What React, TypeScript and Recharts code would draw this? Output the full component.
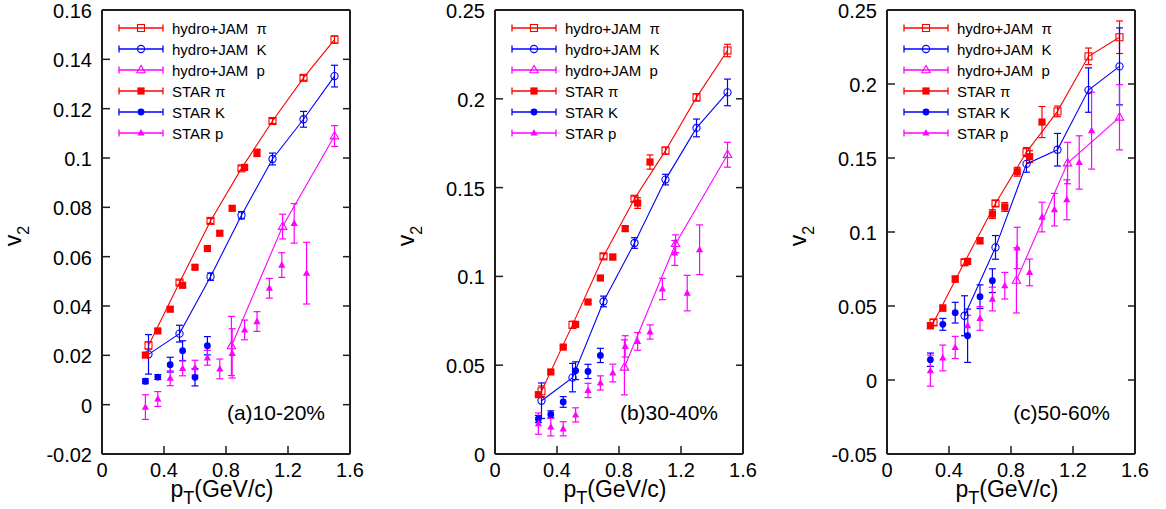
import React from 'react';
import { ScatterChart, Scatter, XAxis, YAxis, ErrorBar, Legend, Label } from 'recharts';

const RED = '#ff0000';
const BLUE = '#0000ff';
const MAG = '#ff00ff';
const AX = '#1e1e1e';
const FONT = '"Liberation Sans", Arial, Helvetica, sans-serif';

// ---------- shared x values / ticks ----------
const X_TICKS = [0, 0.4, 0.8, 1.2, 1.6];
const HYDRO_X = [0.3, 0.5, 0.7, 0.9, 1.1, 1.3, 1.5];
const HYDRO_K_X_C = [0.5, 0.7, 0.9, 1.1, 1.3, 1.5];
const HYDRO_P_X = [0.835, 1.165, 1.5];
const STAR_PI_X = [0.28, 0.36, 0.44, 0.52, 0.6, 0.68, 0.76, 0.84, 0.92, 1.0];
const STAR_K_X = [0.28, 0.36, 0.44, 0.52, 0.6, 0.68];
const STAR_P_X = [0.28, 0.36, 0.44, 0.52, 0.6, 0.68, 0.76, 0.84, 0.92, 1.0, 1.08, 1.16, 1.24, 1.32];

// ---------- panel (a) 10-20% ----------
const A_Y_TICKS = [-0.02, 0, 0.02, 0.04, 0.06, 0.08, 0.1, 0.12, 0.14, 0.16];
const A_HYDRO_PI = [0.024, 0.0495, 0.0745, 0.0958, 0.115, 0.1325, 0.148];
const A_HYDRO_PI_ERR = [0.0015, 0.001, 0.001, 0.001, 0.001, 0.001, 0.0015];
const A_HYDRO_K = [0.0204, 0.0288, 0.0519, 0.0768, 0.0996, 0.1157, 0.1332];
const A_HYDRO_K_ERR = [0.008, 0.0034, 0.0015, 0.0015, 0.0024, 0.0032, 0.0044];
const A_HYDRO_P = [0.0238, 0.0722, 0.1089];
const A_HYDRO_P_ERR = [0.012, 0.005, 0.0042];
const A_STAR_PI = [0.0201, 0.0299, 0.0387, 0.0484, 0.0557, 0.0633, 0.0695, 0.0796, 0.0962, 0.1021];
const A_STAR_PI_ERR = [0.0008, 0.0008, 0.0008, 0.0008, 0.0008, 0.0008, 0.0008, 0.0008, 0.001, 0.0015];
const A_STAR_K = [0.0095, 0.0112, 0.0162, 0.0219, 0.0111, 0.0239];
const A_STAR_K_ERR = [0.001, 0.001, 0.003, 0.004, 0.0035, 0.0037];
const A_STAR_P = [-0.001, 0.0023, 0.0107, 0.0147, 0.015, 0.019, 0.0145, 0.0208, 0.0303, 0.0337, 0.0472, 0.0566, 0.0735, 0.0533];
const A_STAR_P_ERR = [0.005, 0.003, 0.003, 0.003, 0.003, 0.003, 0.004, 0.01, 0.004, 0.004, 0.004, 0.005, 0.008, 0.0125];

// ---------- panel (b) 30-40% ----------
const B_Y_TICKS = [0, 0.05, 0.1, 0.15, 0.2, 0.25];
const B_HYDRO_PI = [0.0353, 0.0727, 0.1113, 0.1437, 0.1708, 0.2008, 0.2272];
const B_HYDRO_PI_ERR = [0.003, 0.002, 0.0015, 0.0015, 0.002, 0.002, 0.0035];
const B_HYDRO_K = [0.03, 0.043, 0.0859, 0.1188, 0.1545, 0.1836, 0.2036];
const B_HYDRO_K_ERR = [0.01, 0.008, 0.003, 0.003, 0.003, 0.005, 0.0075];
const B_HYDRO_P = [0.0488, 0.1184, 0.1685];
const B_HYDRO_P_ERR = [0.0155, 0.005, 0.007];
const B_STAR_PI = [0.0334, 0.0462, 0.0602, 0.073, 0.0856, 0.0991, 0.1109, 0.1269, 0.1413, 0.1644];
const B_STAR_PI_ERR = [0.001, 0.001, 0.001, 0.001, 0.001, 0.001, 0.0015, 0.0015, 0.003, 0.004];
const B_STAR_K = [0.0197, 0.0223, 0.0293, 0.0469, 0.0465, 0.0555];
const B_STAR_K_ERR = [0.002, 0.002, 0.003, 0.005, 0.004, 0.004];
const B_STAR_P = [0.0171, 0.0152, 0.0142, 0.022, 0.0358, 0.04, 0.0456, 0.0606, 0.0634, 0.0687, 0.0929, 0.1132, 0.0906, 0.115];
const B_STAR_P_ERR = [0.006, 0.005, 0.004, 0.004, 0.004, 0.004, 0.005, 0.006, 0.005, 0.004, 0.006, 0.007, 0.01, 0.014];

// ---------- panel (c) 50-60% ----------
const C_Y_TICKS = [-0.05, 0, 0.05, 0.1, 0.15, 0.2, 0.25];
const C_HYDRO_PI = [0.0389, 0.0795, 0.1193, 0.154, 0.1815, 0.2187, 0.2316];
const C_HYDRO_PI_ERR = [0.002, 0.002, 0.002, 0.003, 0.0036, 0.0056, 0.011];
const C_HYDRO_K = [0.0434, 0.0896, 0.146, 0.1556, 0.1959, 0.2119];
const C_HYDRO_K_ERR = [0.0135, 0.008, 0.0056, 0.011, 0.015, 0.026];
const C_HYDRO_P = [0.0673, 0.1466, 0.1775];
const C_HYDRO_P_ERR = [0.022, 0.014, 0.022];
const C_STAR_PI = [0.0367, 0.0486, 0.0682, 0.0801, 0.0941, 0.1121, 0.1169, 0.1407, 0.1509, 0.1743];
const C_STAR_PI_ERR = [0.002, 0.002, 0.002, 0.002, 0.002, 0.003, 0.003, 0.003, 0.004, 0.0105];
const C_STAR_K = [0.0137, 0.0376, 0.0455, 0.0299, 0.0563, 0.0671];
const C_STAR_K_ERR = [0.0045, 0.004, 0.007, 0.018, 0.008, 0.008];
const C_STAR_P = [0.0063, 0.0149, 0.022, 0.0367, 0.0416, 0.0547, 0.0637, 0.0892, 0.0727, 0.1101, 0.1151, 0.1218, 0.147, 0.1685];
const C_STAR_P_ERR = [0.0105, 0.0087, 0.0075, 0.007, 0.008, 0.008, 0.009, 0.014, 0.009, 0.01, 0.011, 0.0135, 0.018, 0.026];

const LEGEND_NAMES = ['hydro+JAM  \u03c0', 'hydro+JAM  K', 'hydro+JAM  p', 'STAR \u03c0', 'STAR K', 'STAR p'];
const PANEL_LABELS = ['(a)10-20%', '(b)30-40%', '(c)50-60%'];

const pts = (xs: number[], ys: number[], es: number[]) => xs.map((x, i) => ({ x, y: ys[i], e: es[i] }));

// ---------- marker shapes ----------
type ShapeKind = 'osq' | 'ocirc' | 'otri' | 'fsq' | 'fcirc' | 'ftri';
const marker = (kind: ShapeKind, c: string, cx: number, cy: number) => {
  switch (kind) {
    case 'osq':
      return <rect x={cx - 3.5} y={cy - 3.5} width={7} height={7} fill="none" stroke={c} strokeWidth={1.1} />;
    case 'ocirc':
      return <circle cx={cx} cy={cy} r={3.6} fill="none" stroke={c} strokeWidth={1.1} />;
    case 'otri':
      return <polygon points={`${cx},${cy - 4.6} ${cx - 4.2},${cy + 2.8} ${cx + 4.2},${cy + 2.8}`} fill="none" stroke={c} strokeWidth={1.1} />;
    case 'fsq':
      return <rect x={cx - 3.6} y={cy - 3.6} width={7.2} height={7.2} fill={c} stroke="none" />;
    case 'fcirc':
      return <circle cx={cx} cy={cy} r={3.4} fill={c} stroke="none" />;
    default:
      return <polygon points={`${cx},${cy - 4} ${cx - 3.6},${cy + 2.6} ${cx + 3.6},${cy + 2.6}`} fill={c} stroke="none" />;
  }
};
const shapeFn = (kind: ShapeKind, c: string) => (p: any) => {
  if (p == null || p.cx == null || p.cy == null) return <g />;
  return marker(kind, c, p.cx, p.cy);
};

const SERIES_STYLE: { color: string; kind: ShapeKind; line: boolean }[] = [
  { color: RED, kind: 'osq', line: true },
  { color: BLUE, kind: 'ocirc', line: true },
  { color: MAG, kind: 'otri', line: true },
  { color: RED, kind: 'fsq', line: false },
  { color: BLUE, kind: 'fcirc', line: false },
  { color: MAG, kind: 'ftri', line: false },
];

// ---------- ticks ----------
const leftTick = (props: any) => {
  const { x, y, payload } = props;
  return (
    <g>
      <line x1={x} y1={y} x2={x + 8} y2={y} stroke={AX} strokeWidth={1.5} />
      <text x={x - 10} y={y + 8} textAnchor="end" fontSize={20} fontFamily={FONT} fill="#000">
        {String(payload.value)}
      </text>
    </g>
  );
};
const rightTick = (props: any) => {
  const { x, y } = props;
  return <line x1={x} y1={y} x2={x - 7} y2={y} stroke={AX} strokeWidth={1.5} />;
};
const bottomTick = (props: any) => {
  const { x, y, payload } = props;
  return (
    <g>
      <line x1={x} y1={y} x2={x} y2={y - 8} stroke={AX} strokeWidth={1.5} />
      <text x={x} y={y + 22.5} textAnchor="middle" fontSize={20} fontFamily={FONT} fill="#000">
        {String(payload.value)}
      </text>
    </g>
  );
};
const topTick = (props: any) => {
  const { x, y } = props;
  return <line x1={x} y1={y} x2={x} y2={y + 7} stroke={AX} strokeWidth={1.5} />;
};

// ---------- labels ----------
const yLabel = (props: any) => {
  const vb = props.viewBox || { x: 0, y: 10, width: 102, height: 444 };
  const cx = vb.x + 21;
  const cy = vb.y + vb.height / 2 + 4;
  return (
    <text x={cx} y={cy} transform={`rotate(-90 ${cx} ${cy})`} textAnchor="middle" fontSize={23} fontFamily={FONT} fill="#000">
      v<tspan fontSize={16} dy={8}>2</tspan>
    </text>
  );
};
const xLabel = (props: any) => {
  const vb = props.viewBox || { x: 102, y: 454, width: 248, height: 55 };
  const cx = vb.x + vb.width / 2 - 4;
  const cy = vb.y + 43;
  return (
    <text x={cx} y={cy} textAnchor="middle" fontSize={23} fontFamily={FONT} fill="#000">
      p<tspan fontSize={18} dy={7}>T</tspan>
      <tspan dy={-7}>(GeV/c)</tspan>
    </text>
  );
};
const panelLabel = (text: string) => (props: any) => {
  const vb = props.viewBox || { x: 350, y: 10, width: 1, height: 444 };
  return (
    <text x={vb.x - 25} y={vb.y + vb.height - 34} textAnchor="end" fontSize={21} fontFamily={FONT} fill="#000">
      {text}
    </text>
  );
};

// ---------- legend ----------
const LegendBox = () => (
  <svg width={240} height={140} style={{ overflow: 'visible', display: 'block' }}>
    {SERIES_STYLE.map((s, i) => {
      const y = 8 + 21 * i;
      return (
        <g key={i}>
          <line x1={9} y1={y} x2={53} y2={y} stroke={s.color} strokeWidth={1.3} />
          <line x1={9} y1={y - 3.5} x2={9} y2={y + 3.5} stroke={s.color} strokeWidth={1.3} />
          <line x1={53} y1={y - 3.5} x2={53} y2={y + 3.5} stroke={s.color} strokeWidth={1.3} />
          {marker(s.kind, s.color, 31, y)}
          <text x={62} y={y + 5.5} fontSize={15} fontFamily={FONT} fill="#000" style={{ whiteSpace: 'pre' }}>
            {LEGEND_NAMES[i]}
          </text>
        </g>
      );
    })}
  </svg>
);

type Panel = {
  left: number;
  domain: [number, number];
  yTicks: number[];
  label: string;
  series: { x: number; y: number; e: number }[][];
};

const PANELS: Panel[] = [
  {
    left: 0,
    domain: [-0.02, 0.16],
    yTicks: A_Y_TICKS,
    label: PANEL_LABELS[0],
    series: [
      pts(HYDRO_X, A_HYDRO_PI, A_HYDRO_PI_ERR),
      pts(HYDRO_X, A_HYDRO_K, A_HYDRO_K_ERR),
      pts(HYDRO_P_X, A_HYDRO_P, A_HYDRO_P_ERR),
      pts(STAR_PI_X, A_STAR_PI, A_STAR_PI_ERR),
      pts(STAR_K_X, A_STAR_K, A_STAR_K_ERR),
      pts(STAR_P_X, A_STAR_P, A_STAR_P_ERR),
    ],
  },
  {
    left: 393,
    domain: [0, 0.25],
    yTicks: B_Y_TICKS,
    label: PANEL_LABELS[1],
    series: [
      pts(HYDRO_X, B_HYDRO_PI, B_HYDRO_PI_ERR),
      pts(HYDRO_X, B_HYDRO_K, B_HYDRO_K_ERR),
      pts(HYDRO_P_X, B_HYDRO_P, B_HYDRO_P_ERR),
      pts(STAR_PI_X, B_STAR_PI, B_STAR_PI_ERR),
      pts(STAR_K_X, B_STAR_K, B_STAR_K_ERR),
      pts(STAR_P_X, B_STAR_P, B_STAR_P_ERR),
    ],
  },
  {
    left: 785,
    domain: [-0.05, 0.25],
    yTicks: C_Y_TICKS,
    label: PANEL_LABELS[2],
    series: [
      pts(HYDRO_X, C_HYDRO_PI, C_HYDRO_PI_ERR),
      pts(HYDRO_K_X_C, C_HYDRO_K, C_HYDRO_K_ERR),
      pts(HYDRO_P_X, C_HYDRO_P, C_HYDRO_P_ERR),
      pts(STAR_PI_X, C_STAR_PI, C_STAR_PI_ERR),
      pts(STAR_K_X, C_STAR_K, C_STAR_K_ERR),
      pts(STAR_P_X, C_STAR_P, C_STAR_P_ERR),
    ],
  },
];

const CHART_W = 381;

const PanelChart = ({ p }: { p: Panel }) => (
  <div style={{ position: 'absolute', left: p.left, top: 0, width: CHART_W, height: 509 }}>
    <ScatterChart width={CHART_W} height={509} margin={{ top: 9, right: 30, bottom: 0, left: 0 }}>
      <XAxis
        xAxisId={0}
        type="number"
        dataKey="x"
        domain={[0, 1.6]}
        ticks={X_TICKS}
        interval={0}
        allowDataOverflow
        height={55}
        tickSize={0}
        tickMargin={0}
        tickLine={false}
        tick={bottomTick}
        axisLine={{ stroke: AX, strokeWidth: 2 }}
      >
        <Label content={xLabel} />
      </XAxis>
      <XAxis
        xAxisId="top"
        orientation="top"
        type="number"
        domain={[0, 1.6]}
        ticks={X_TICKS}
        interval={0}
        allowDataOverflow
        height={1}
        tickSize={0}
        tickMargin={0}
        tickLine={false}
        tick={topTick}
        axisLine={{ stroke: AX, strokeWidth: 2 }}
      />
      <YAxis
        yAxisId={0}
        type="number"
        dataKey="y"
        domain={p.domain}
        ticks={p.yTicks}
        interval={0}
        allowDataOverflow
        width={102}
        tickSize={0}
        tickMargin={0}
        tickLine={false}
        tick={leftTick}
        axisLine={{ stroke: AX, strokeWidth: 2 }}
      >
        <Label content={yLabel} />
      </YAxis>
      <YAxis
        yAxisId="right"
        orientation="right"
        type="number"
        domain={p.domain}
        ticks={p.yTicks}
        interval={0}
        allowDataOverflow
        width={1}
        tickSize={0}
        tickMargin={0}
        tickLine={false}
        tick={rightTick}
        axisLine={{ stroke: AX, strokeWidth: 2 }}
      >
        <Label content={panelLabel(p.label)} />
      </YAxis>
      {p.series.map((data, i) => {
        const s = SERIES_STYLE[i];
        return (
          <Scatter
            key={i}
            name={LEGEND_NAMES[i]}
            data={data}
            xAxisId={0}
            yAxisId={0}
            isAnimationActive={false}
            fill={s.color}
            shape={shapeFn(s.kind, s.color)}
            line={s.line ? { stroke: s.color, strokeWidth: 1.1 } : false}
            lineType="joint"
            legendType="none"
          >
            <ErrorBar dataKey="e" direction="y" width={3.5} stroke={s.color} strokeWidth={1.2} isAnimationActive={false} />
          </Scatter>
        );
      })}
      <Legend
        layout="vertical"
        align="center"
        verticalAlign="middle"
        content={() => <LegendBox />}
        wrapperStyle={{ left: 110, top: 20, width: 240, height: 140, margin: 0, padding: 0 }}
      />
    </ScatterChart>
  </div>
);

export default function App() {
  return (
    <div style={{ position: 'absolute', left: 0, top: 0, width: 1166, height: 509, background: '#fff', overflow: 'hidden' }}>
      {PANELS.map((p, i) => (
        <PanelChart key={i} p={p} />
      ))}
    </div>
  );
}
